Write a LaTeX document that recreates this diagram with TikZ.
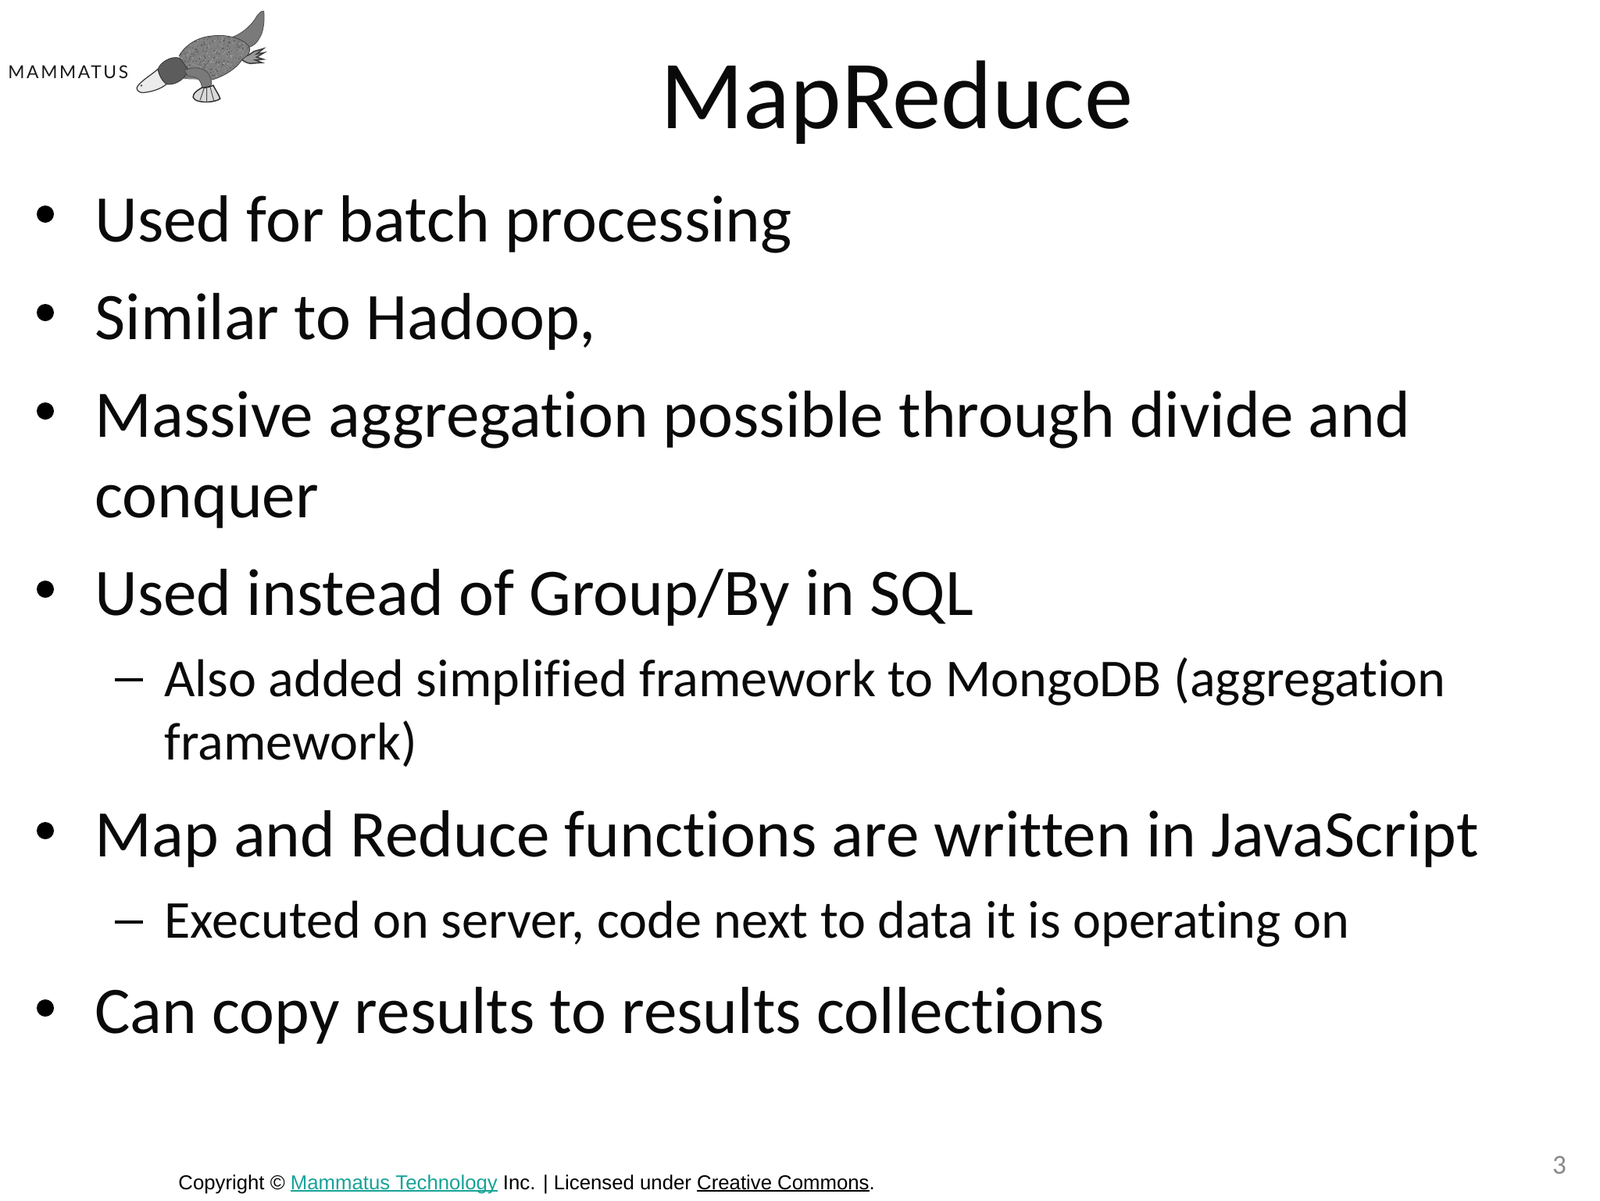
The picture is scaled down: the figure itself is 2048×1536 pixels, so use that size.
\documentclass[tikz,border=0pt]{standalone}
\usepackage{fontspec}
\setmainfont[Ligatures=NoCommon]{Carlito}
\newfontfamily\footfont{Liberation Sans}
\newfontfamily\logofont[LetterSpace=11.5]{Lato}
\definecolor{linkteal}{HTML}{17A398}
\definecolor{numgray}{HTML}{898989}
\definecolor{txt}{HTML}{0A0A0A}
\newsavebox{\ulbox}
\newcommand{\myul}[1]{\sbox{\ulbox}{#1}\rlap{\rule[-1.3pt]{\wd\ulbox}{0.75pt}}\usebox{\ulbox}}
\tikzset{
  titletext/.style={anchor=base,inner sep=0pt,text=txt,font=\fontsize{62.4}{62.4}\selectfont},
  bodytext/.style={anchor=base west,inner sep=0pt,text=txt,font=\fontsize{42.6}{42.6}\selectfont},
  subtext/.style={anchor=base west,inner sep=0pt,text=txt,font=\fontsize{34.1}{34.1}\selectfont},
  footertext/.style={anchor=base west,inner sep=0pt,text=black,font=\footfont\fontsize{12.88}{12.88}\selectfont},
  bulletdot/.style={circle,fill=black,inner sep=0pt,minimum size=11pt},
  dashmark/.style={rectangle,fill=black,inner sep=0pt,minimum width=18pt,minimum height=2.4pt},
  skinmid/.style={fill=black!52,draw=black!70,line width=0.4pt},
  skindark/.style={fill=black!64,draw=black!80,line width=0.4pt},
  skinlight/.style={fill=black!10,draw=black!80,line width=0.6pt},
}
\begin{document}
\begin{tikzpicture}[x=0.5pt,y=-0.5pt]
\useasboundingbox (0,0) rectangle (2048,1536);
\fill[white] (0,0) rectangle (2048,1536);

% logo
\node[anchor=base west,inner sep=0pt,text=black!90,font=\logofont\fontsize{11.4}{11.4}\selectfont] (logo) at (10,101) {MAMMATUS};
\begin{scope}[x=0.1685pt,y=-0.1685pt]
  \path[skinmid] (885,140) .. controls (925,125) and (960,90) .. (975,62) .. controls (985,48) and (995,40) .. (1002,42) .. controls (1006,80) and (1000,125) .. (985,145) .. controls (975,165) and (960,175) .. (945,180) -- cycle;
  \draw[black!75,line width=0.8pt,fill=black!40] (925,212) .. controls (945,215) and (955,200) .. (965,195) -- (1000,185) -- (975,205) -- (1003,200) -- (975,217) -- (1000,225) -- (970,228) -- (995,238) -- (965,240) .. controls (945,245) and (930,235) .. (915,225) -- cycle;
  \begin{scope}
    \path[clip] (680,212) .. controls (705,170) and (750,140) .. (810,136) .. controls (860,130) and (920,145) .. (945,175) .. controls (955,195) and (945,210) .. (920,225) .. controls (900,260) and (850,290) .. (805,303) -- (700,300) -- cycle;
    \fill[black!50] (650,120) rectangle (960,310);
    \foreach \i in {1,...,700}{
      \pgfmathsetmacro{\px}{670+290*rnd}
      \pgfmathsetmacro{\py}{130+175*rnd}
      \pgfmathsetmacro{\shade}{int(35+35*rnd)}
      \fill[black!\shade] (\px,\py) circle[radius=3];
    }
  \end{scope}
  \draw[black!75,line width=0.4pt] (680,212) .. controls (705,170) and (750,140) .. (810,136) .. controls (860,130) and (920,145) .. (945,175) .. controls (955,195) and (945,210) .. (920,225) .. controls (900,260) and (850,290) .. (805,303);
  \path[skinlight,fill=black!8] (520,332) .. controls (530,310) and (575,285) .. (600,262) .. controls (605,290) and (620,310) .. (634,318) .. controls (610,340) and (570,350) .. (540,352) .. controls (525,350) and (518,340) .. (520,332) -- cycle;
  \fill[black!70] (537,325) circle[radius=4];
  \path[skindark] (600,262) .. controls (610,235) and (650,212) .. (680,220) .. controls (700,235) and (705,260) .. (715,262) .. controls (710,295) and (670,325) .. (634,320) .. controls (615,310) and (605,285) .. (600,262) -- cycle;
  \path[skinmid] (700,268) .. controls (730,250) and (780,255) .. (795,285) .. controls (805,305) and (805,320) .. (800,326) -- (767,334) .. controls (765,310) and (755,290) .. (715,290) -- cycle;
  \path[draw=black!85,line width=0.7pt,fill=black!15] (767,333) .. controls (785,335) and (800,328) .. (810,324) .. controls (820,345) and (832,360) .. (836,375) .. controls (815,390) and (760,392) .. (740,378) .. controls (725,368) and (735,350) .. (767,333) -- cycle;
  \draw[black!70,line width=0.5pt] (775,335) -- (760,380) (785,335) -- (785,385) (798,330) -- (812,382);
\end{scope}

% title
\node[titletext] (title) at (1148,164) {MapReduce};

% bullets
\node[bulletdot] (b1) at (58,274) {};
\node[bodytext] (t1) at (121,309) {Used for batch processing};
\node[bulletdot] (b2) at (58,400) {};
\node[bodytext] (t2) at (121,434) {Similar to Hadoop,};
\node[bulletdot] (b3) at (58,526) {};
\node[bodytext] (t3) at (121,559) {Massive aggregation possible through divide and};
\node[bodytext] (t3b) at (121,662) {conquer};
\node[bulletdot] (b4) at (58,754) {};
\node[bodytext] (t4) at (121,787) {Used instead of Group/By in SQL};
\node[dashmark] (d1) at (165,870) {};
\node[subtext] (s1) at (210,891) {Also added simplified framework to MongoDB (aggregation};
\node[subtext] (s1b) at (210,972) {framework)};
\node[bulletdot] (b5) at (58,1063) {};
\node[bodytext] (t5) at (121,1096) {Map and Reduce functions are written in JavaScript};
\node[dashmark] (d2) at (165,1180) {};
\node[subtext] (s2) at (210,1200) {Executed on server, code next to data it is operating on};
\node[bulletdot] (b6) at (58,1290) {};
\node[bodytext] (t6) at (121,1322) {Can copy results to results collections};

% footer
\node[footertext] (foot) at (228,1522) {Copyright © \textcolor{linkteal}{\myul{Mammatus Technology}} Inc. | Licensed under \myul{Creative Commons}.};
\node[anchor=base,inner sep=0pt,text=numgray,font=\fontsize{17.5}{17.5}\selectfont] (num) at (1996,1502) {3};
\end{tikzpicture}
\end{document}
